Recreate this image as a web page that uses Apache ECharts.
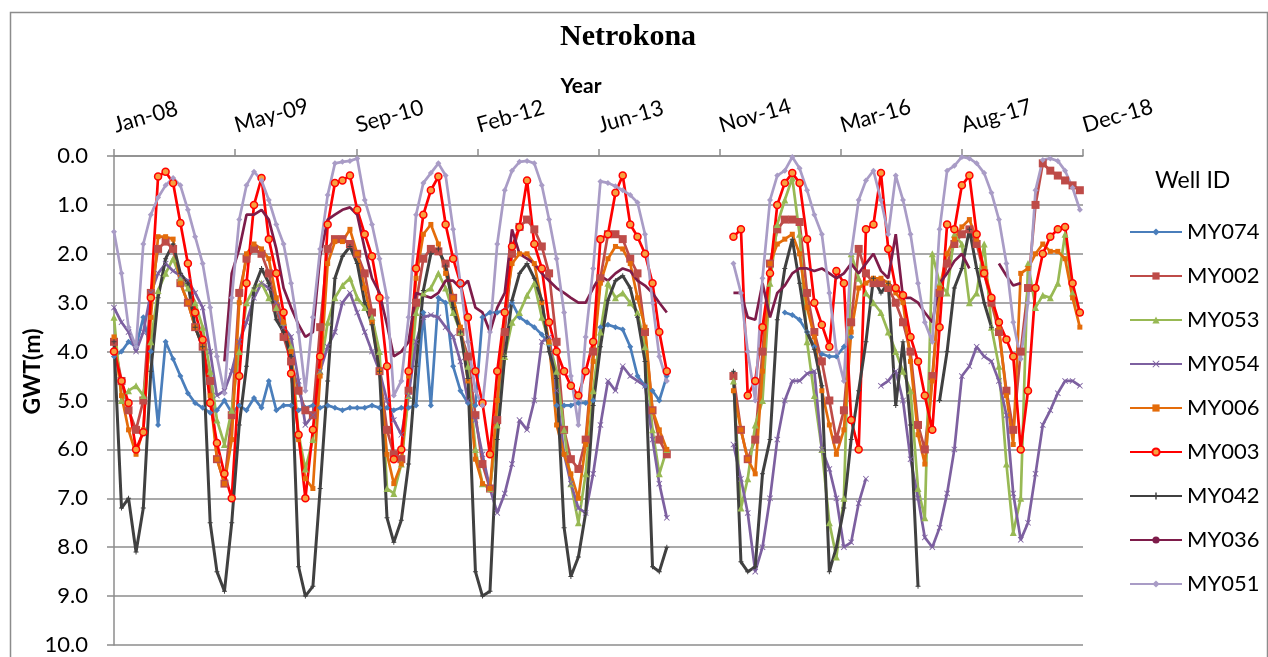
<!DOCTYPE html>
<html><head><meta charset="utf-8">
<script src="https://cdn.jsdelivr.net/npm/echarts@6/dist/echarts.min.js"></script>
<style>html,body{margin:0;padding:0;background:#fff}#c{width:1268px;height:657px}</style>
</head><body><div id="c"></div>
<script>
// x ticks every 500 days from 1 Jan 2008
const xTickLabels = ['Jan-08','May-09','Sep-10','Feb-12','Jun-13','Nov-14','Mar-16','Aug-17','Dec-18'];
const yTickLabels = ['0.0','1.0','2.0','3.0','4.0','5.0','6.0','7.0','8.0','9.0','10.0'];
const wellIds = ['MY074','MY002','MY053','MY054','MY006','MY003','MY042','MY036','MY051'];

// monthly readings, Jan 2008 ... Dec 2018 (one row per year)
const MY074 = [
4.1,4.0,3.8,3.9,3.3,4.0,5.5,3.8,4.15,4.5,4.85,5.05,
5.15,5.25,5.2,5.0,5.25,5.1,5.2,4.95,5.15,4.6,5.2,5.1,
5.1,5.2,5.15,5.1,5.15,5.1,5.15,5.2,5.15,5.15,5.15,5.1,
5.15,5.15,5.2,5.15,5.15,5.1,3.2,5.1,2.9,3.0,4.3,4.8,
5.05,5.1,3.3,3.2,3.2,3.15,3.0,3.3,3.4,3.5,3.65,3.85,
5.1,5.1,5.1,5.05,5.05,5.0,3.5,3.45,3.5,3.55,3.9,4.5,
4.7,4.8,5.0,4.5,null,null,null,null,null,null,null,null,
null,null,null,null,null,null,null,3.2,3.25,3.35,3.6,3.9,
4.05,4.1,4.1,3.9,3.7,null,null,null,null,null,null,null,
null,null,null,null,null,null,null,null,null,null,null,null,
null,null,null,null,null,null,null,null,null,null,null,null];
const MY002 = [
3.8,4.6,5.2,5.6,5.0,2.8,1.9,1.75,1.9,2.6,3.0,3.5,
3.9,4.6,6.2,6.7,5.3,2.8,2.1,1.9,2.0,2.4,3.1,3.7,
4.2,4.8,5.2,5.3,3.5,1.9,1.7,1.7,1.8,2.0,2.4,3.2,
4.4,5.6,6.1,6.2,4.8,3.0,2.1,1.9,1.95,2.2,2.9,3.6,
4.1,5.3,6.3,6.8,5.4,3.6,2.0,1.45,1.3,1.5,1.85,2.4,
3.8,5.6,6.2,6.4,5.8,4.0,2.5,1.6,1.6,1.7,2.1,2.4,
3.6,5.2,5.8,6.1,null,null,null,null,null,null,null,null,
4.5,5.6,6.2,5.8,4.0,2.2,1.5,1.3,1.3,1.35,2.8,3.6,
4.2,5.0,5.8,5.2,3.4,1.9,2.4,2.6,2.6,2.7,3.0,3.4,
4.0,5.5,6.0,4.5,2.8,2.2,1.8,1.6,1.5,1.8,2.4,3.0,
3.6,4.8,5.6,4.0,2.7,1.0,0.15,0.3,0.4,0.5,0.6,0.7];
const MY053 = [
3.3,5.0,4.8,4.7,4.9,3.8,2.75,2.4,2.1,2.5,2.7,3.0,
3.5,4.4,5.4,5.9,5.2,4.0,3.0,2.7,2.6,2.9,3.1,3.4,
3.9,5.7,6.4,5.8,4.4,3.4,2.9,2.65,2.5,2.9,3.1,3.3,
4.0,6.8,6.9,6.3,4.9,3.2,2.8,2.7,2.4,2.7,3.2,3.6,
4.3,6.0,6.7,6.8,5.5,4.1,3.4,3.2,2.85,2.6,3.3,3.8,
4.4,5.6,6.7,7.5,6.5,4.8,3.6,2.6,2.9,2.8,3.0,3.2,
3.9,5.6,6.5,6.0,null,null,null,null,null,null,null,null,
4.6,7.2,6.6,5.5,5.0,2.6,1.4,0.9,0.45,1.6,3.8,4.9,
6.0,7.5,8.2,7.0,2.0,2.5,2.8,3.0,3.2,3.6,4.0,4.4,
4.8,6.8,7.4,2.0,2.6,2.8,1.6,1.8,3.0,2.8,1.8,3.5,
4.3,6.3,7.7,7.0,2.2,3.1,2.85,2.9,2.6,1.6,2.8,3.2];
const MY054 = [
3.1,3.4,3.6,4.0,3.6,2.8,2.4,2.2,2.35,2.45,2.55,2.8,
3.1,4.0,4.9,4.8,4.4,3.8,3.4,2.9,2.6,2.7,3.0,3.5,
3.7,4.6,5.5,5.3,4.4,3.9,3.6,3.0,2.8,3.2,3.6,4.0,
4.4,5.0,5.4,5.7,4.9,3.8,3.3,3.25,3.3,3.5,3.7,4.2,
5.0,5.4,6.1,6.8,7.3,6.9,6.3,5.4,5.6,5.0,3.8,3.7,
4.8,6.1,6.7,7.2,7.3,6.5,5.5,4.6,4.8,4.3,4.5,4.6,
4.7,5.8,6.7,7.4,null,null,null,null,null,null,null,null,
5.9,6.6,7.3,8.5,8.0,7.0,5.8,5.0,4.6,4.6,4.45,4.4,
6.0,6.4,7.0,8.0,7.9,7.1,6.6,null,4.7,4.6,4.4,5.0,
6.2,7.0,7.8,8.0,7.6,6.9,6.0,4.5,4.3,3.9,4.1,4.2,
4.6,5.3,6.9,7.85,7.5,6.5,5.5,5.2,4.85,4.6,4.6,4.7];
const MY006 = [
3.7,4.9,5.6,6.1,5.6,3.3,1.65,1.65,1.7,2.6,3.0,3.5,
3.9,4.9,6.2,6.7,5.8,3.0,2.0,1.8,1.9,2.1,2.9,3.4,
4.0,5.8,6.6,6.8,4.5,2.2,1.75,1.75,1.5,2.0,2.7,3.4,
4.4,6.1,6.7,6.3,4.5,2.5,1.6,1.4,1.8,2.4,2.9,3.5,
4.6,6.2,6.7,6.8,5.0,3.2,2.2,2.0,2.0,2.2,3.0,3.8,
5.5,6.1,6.5,7.0,5.9,4.2,2.6,2.1,1.85,1.9,2.2,2.9,
3.5,5.2,5.6,6.0,null,null,null,null,null,null,null,null,
4.8,5.6,6.2,6.5,4.4,2.2,1.8,1.7,1.6,2.0,3.1,3.7,
4.8,5.5,6.1,5.6,3.6,2.7,2.6,2.5,2.5,2.6,2.8,3.0,
4.2,5.7,6.3,4.6,2.7,2.0,1.7,1.45,1.3,1.7,2.3,2.9,
3.5,4.9,5.9,2.4,2.3,2.0,1.8,1.95,1.95,2.1,2.9,3.5];
const MY003 = [
4.0,4.6,5.05,6.0,5.65,2.9,0.42,0.32,0.55,1.37,2.2,3.2,
3.76,5.05,5.87,6.5,7.0,4.5,2.6,1.0,0.45,1.7,2.4,3.2,
4.45,5.7,7.0,5.6,4.1,1.4,0.55,0.5,0.4,1.1,1.6,2.05,
2.9,4.3,6.2,6.0,4.4,2.3,1.2,0.7,0.42,1.4,2.1,2.6,
3.3,4.4,5.05,6.1,4.4,3.2,1.85,1.45,0.5,1.8,2.3,3.4,
4.0,4.4,4.7,4.9,4.4,3.8,1.7,1.6,0.75,0.4,1.4,1.65,
2.0,2.6,3.6,4.4,null,null,null,null,null,null,null,null,
1.65,1.5,4.9,4.6,3.5,2.4,1.0,0.55,0.35,0.55,1.7,3.0,
3.45,3.9,2.35,2.6,5.4,6.0,1.5,1.4,0.35,1.9,2.7,2.85,
3.7,4.2,4.9,5.6,3.5,1.4,1.5,0.6,0.4,1.6,2.4,2.9,
3.4,3.75,4.1,6.0,4.8,2.7,2.0,1.65,1.5,1.45,2.6,3.2];
const MY042 = [
3.8,7.2,7.0,8.1,7.2,4.4,2.9,2.1,1.8,2.4,2.6,3.5,
3.9,7.5,8.5,8.9,7.5,5.5,4.3,2.7,2.3,2.6,3.35,3.6,
4.1,8.4,9.0,8.8,6.8,4.6,2.5,2.05,1.85,2.2,3.0,3.45,
4.4,7.4,7.9,7.45,6.3,4.3,2.75,2.0,1.9,2.25,3.1,3.6,
4.55,8.5,9.0,8.9,5.8,4.1,2.95,2.4,2.2,2.5,2.95,4.0,
4.55,7.6,8.6,8.2,7.3,5.1,3.9,2.95,2.55,2.45,2.7,3.3,
4.2,8.4,8.5,8.0,null,null,null,null,null,null,null,null,
4.4,8.3,8.5,8.4,6.5,5.8,3.35,2.3,1.7,2.6,3.6,3.95,
4.7,8.5,8.0,7.2,5.8,4.8,3.8,2.5,2.8,2.6,5.1,3.8,
5.5,8.8,null,null,5.0,4.0,2.7,2.3,1.5,2.3,3.0,3.5,
null,null,null,null,null,null,null,null,null,null,null,null];
const MY036 = [
null,null,null,null,null,null,null,null,null,null,null,null,
null,null,null,4.2,2.4,1.9,1.2,1.2,1.1,1.3,1.9,2.7,
3.1,3.45,3.7,3.6,2.05,1.3,1.2,1.1,1.05,1.2,1.9,2.5,
2.8,3.45,4.1,4.0,3.8,2.8,2.85,2.9,2.8,2.55,2.55,2.7,
2.55,3.1,3.2,3.6,3.1,2.8,1.5,2.0,2.1,2.2,2.4,2.55,
2.7,2.8,2.9,3.0,3.0,2.7,2.45,2.55,2.4,2.3,2.35,2.55,
2.65,2.8,3.0,3.2,null,null,null,null,null,null,null,null,
2.8,2.8,3.3,3.35,2.6,3.3,2.8,2.65,2.4,2.3,2.3,2.35,
2.3,2.4,2.5,2.4,2.2,2.4,2.2,2.0,2.35,2.5,1.6,2.9,
2.9,3.0,3.2,3.4,2.6,2.4,2.15,2.0,2.3,null,null,null,
2.2,2.45,2.65,2.6,null,null,null,null,null,null,null,null];
const MY051 = [
1.55,2.4,3.5,3.9,1.8,1.2,0.85,0.6,0.45,0.6,1.1,1.65,
2.2,3.1,4.1,4.85,2.9,1.3,0.6,0.32,0.5,0.9,1.4,1.8,
2.6,3.6,4.8,3.3,1.9,0.8,0.15,0.12,0.1,0.05,0.9,1.4,
2.1,2.9,4.9,4.6,3.3,1.2,0.55,0.35,0.15,0.4,1.5,2.6,
3.8,4.8,5.1,3.6,1.8,0.7,0.3,0.12,0.1,0.15,0.6,1.3,
2.1,3.2,4.5,5.5,3.7,2.3,0.52,0.55,0.62,0.7,0.8,0.95,
1.6,3.0,4.1,4.6,null,null,null,null,null,null,null,null,
2.2,2.8,4.0,5.0,2.5,0.9,0.4,0.3,0.02,0.25,0.7,1.2,
1.6,2.8,4.0,4.6,2.0,0.9,0.5,0.3,0.9,1.6,0.4,0.9,
1.6,2.6,3.4,3.8,1.5,0.3,0.2,0.02,0.05,0.15,0.35,0.75,
1.3,2.2,3.4,4.15,3.0,0.7,0.08,0.05,0.1,0.3,0.65,1.1];

// time positions: days since 1 Jan 2008 for the 1st of each month
const DAY = 86400000;
const origin = Date.UTC(2008, 0, 1);
const monthDays = [];
for (let m = 0; m < 132; m++) monthDays.push((Date.UTC(2008, m, 1) - origin) / DAY);

const FONT = 'Lato';
const xPath = 'path://M1,0L5,4L9,0L10,1L6,5L10,9L9,10L5,6L1,10L0,9L4,5L0,1Z';
const plusPath = 'path://M4,0H6V4H10V6H6V10H4V6H0V4H4Z';

function pairs(vals) { return vals.map((v, i) => [monthDays[i], v == null ? '-' : v]); }
function mk(name, vals, color, symbol, size, width, item) {
  return {
    name, type: 'line', data: pairs(vals), color,
    symbol, symbolSize: size, showSymbol: true, showAllSymbol: true,
    connectNulls: false,
    lineStyle: { color, width },
    itemStyle: item || { color },
    emphasis: { disabled: true }
  };
}

const series = [
  mk('MY074', MY074, '#4A7EBB', 'diamond', 6, 2.7),
  mk('MY002', MY002, '#BE4B48', 'rect', 8, 2.7),
  mk('MY053', MY053, '#98B954', 'triangle', 7, 2.7),
  mk('MY054', MY054, '#7D60A0', xPath, 6, 2.7),
  mk('MY006', MY006, '#E46C0A', 'rect', 5, 2.7),
  mk('MY003', MY003, '#FF0000', 'circle', 7, 2.7, { color: '#F7A040', borderColor: '#FF0000', borderWidth: 1.5 }),
  mk('MY042', MY042, '#404040', plusPath, 5, 3),
  mk('MY036', MY036, '#7E1C4A', 'none', 2, 2.7),
  mk('MY051', MY051, '#A99CC6', 'diamond', 6, 2.7)
];

const chart = echarts.init(document.getElementById('c'), null, { renderer: 'canvas' });
chart.setOption({
  animation: false,
  backgroundColor: '#fff',
  title: [
    { text: 'Netrokona', left: 555, top: 17,
      textStyle: { fontFamily: 'Liberation Serif', fontWeight: 'bold', fontSize: 30, color: '#000' } },
    { text: 'Well ID', left: 1150, top: 164,
      textStyle: { fontFamily: FONT, fontWeight: 'normal', fontSize: 23, color: '#000' } }
  ],
  graphic: [{ type: 'rect', left: 8, top: 10, z: -10, silent: true,
    shape: { width: 1257, height: 700 }, style: { fill: 'none', stroke: '#8C8C8C', lineWidth: 1.5 } }],
  legend: {
    data: wellIds, orient: 'vertical', left: 1124, top: 215,
    itemWidth: 52, itemHeight: 9, itemGap: 20,
    textStyle: { fontFamily: FONT, fontSize: 22, color: '#000', lineHeight: 24 }
  },
  grid: { left: 114, right: 185, top: 156, bottom: 12, containLabel: false },
  xAxis: {
    type: 'value', position: 'top', min: 0, max: 4000, interval: 500,
    name: 'Year', nameLocation: 'middle', nameGap: 59, nameMoveOverlap: false,
    nameTextStyle: { fontFamily: FONT, fontWeight: 'bold', fontSize: 21, color: '#000', padding: [0, 35, 0, 0] },
    axisLine: { show: true, lineStyle: { color: '#8C8C8C', width: 1.5 } },
    axisTick: { show: true, length: 7, lineStyle: { color: '#8C8C8C', width: 1.5 } },
    axisLabel: { rotate: 16, margin: 30, fontFamily: FONT, fontSize: 22, color: '#000',
      formatter: v => xTickLabels[Math.round(v / 500)] },
    splitLine: { show: false }
  },
  yAxis: {
    type: 'value', inverse: true, min: 0, max: 10, interval: 1,
    name: 'GWT(m)', nameLocation: 'middle', nameGap: 70, nameRotate: 90, nameMoveOverlap: false,
    nameTextStyle: { fontFamily: FONT, fontWeight: 'bold', fontSize: 23, color: '#000', padding: [0, 0, 0, 58] },
    axisLine: { show: true, lineStyle: { color: '#8C8C8C', width: 1.5 } },
    axisTick: { show: true, length: 7, lineStyle: { color: '#8C8C8C', width: 1.5 } },
    axisLabel: { margin: 26, fontFamily: FONT, fontSize: 22, color: '#000',
      formatter: v => yTickLabels[Math.round(v)] },
    splitLine: { show: true, lineStyle: { color: '#8C8C8C', width: 1.5 } }
  },
  series
});
</script></body></html>
